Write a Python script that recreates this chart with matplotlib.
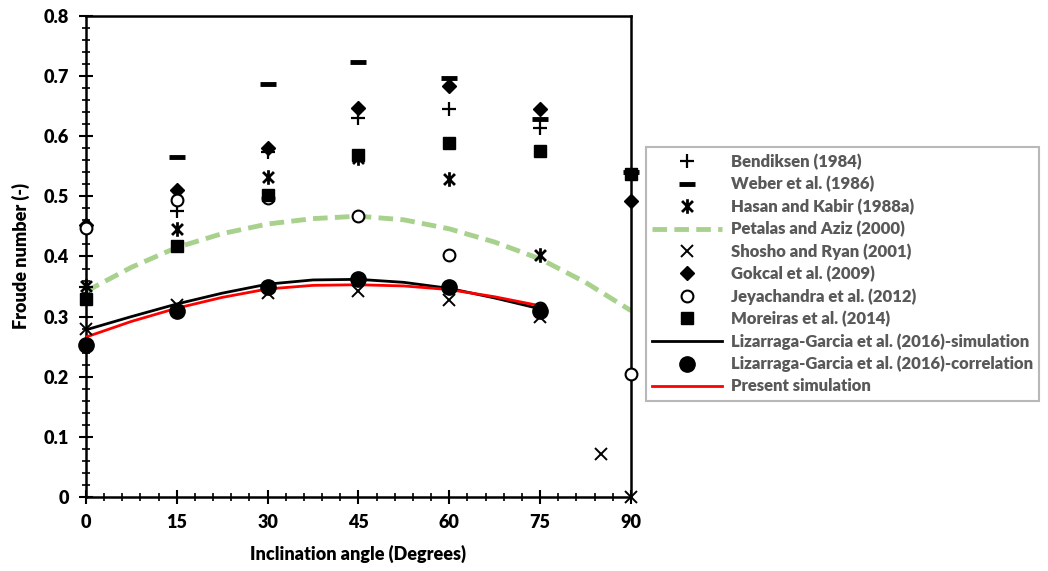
import numpy as np
import matplotlib
matplotlib.use("Agg")
import matplotlib.pyplot as plt
from matplotlib.path import Path
from matplotlib.ticker import MultipleLocator, FuncFormatter

plt.rcParams['font.family'] = ['Lato', 'DejaVu Sans']
plt.rcParams['font.weight'] = 'heavy'

# data
ang = [0, 15, 30, 45, 60, 75, 90]
bendiksen = [0.350, 0.476, 0.573, 0.630, 0.645, 0.614, np.nan]
weber = [np.nan, 0.566, 0.687, 0.723, 0.697, 0.628, 0.540]
hasan = [0.351, 0.445, 0.533, 0.563, 0.529, 0.402, np.nan]
shosho_x = [0, 15, 30, 45, 60, 75, 85, 90]
shosho = [0.279, 0.319, 0.340, 0.343, 0.328, 0.300, 0.072, 0.0]
gokcal = [0.453, 0.511, 0.580, 0.647, 0.683, 0.645, 0.493]
jeya = [0.448, 0.494, 0.497, 0.468, 0.402, 0.315, 0.204]
moreiras = [0.329, 0.417, 0.502, 0.568, 0.588, 0.575, 0.537]
liz_corr_x = [0, 15, 30, 45, 60, 75]
liz_corr = [0.252, 0.309, 0.349, 0.363, 0.349, 0.310]

petalas_x = [0, 7.5, 15, 22.5, 30, 37.5, 45, 52.5, 60, 67.5, 75, 82.5, 90]
petalas = [0.342, 0.382, 0.415, 0.438, 0.454, 0.463, 0.467, 0.461, 0.446, 0.424, 0.396, 0.357, 0.310]
sim_x = [0, 7.5, 15, 22.5, 30, 37.5, 45, 52.5, 60, 67.5, 75]
liz_sim = [0.278, 0.300, 0.321, 0.339, 0.354, 0.361, 0.362, 0.357, 0.347, 0.331, 0.313]
present = [0.266, 0.292, 0.314, 0.332, 0.346, 0.352, 0.353, 0.351, 0.345, 0.333, 0.318]

# excel style star: x plus vertical bar
star = Path([(0, -1), (0, 1), (-0.75, -0.75), (0.75, 0.75), (-0.75, 0.75), (0.75, -0.75)],
            [Path.MOVETO, Path.LINETO, Path.MOVETO, Path.LINETO, Path.MOVETO, Path.LINETO])

fig = plt.figure(figsize=(10.48, 5.71), dpi=100)
ax = fig.add_axes([0.082, 0.1296, 0.52, 0.8424])

kw = dict(linestyle='none', color='black', clip_on=False, zorder=5)
h1, = ax.plot(ang, bendiksen, marker='+', markersize=10, markeredgewidth=1.6, **kw)
h2, = ax.plot(ang, weber, marker='_', markersize=11, markeredgewidth=3.5, **kw)
h3, = ax.plot(ang, hasan, marker=star, markersize=10.5, markeredgewidth=2, **kw)
h4, = ax.plot(petalas_x, petalas, color='#a9d18e', linestyle=(0, (3, 1.5)), linewidth=3.5, zorder=2)
h5, = ax.plot(shosho_x, shosho, marker='x', markersize=8.5, markeredgewidth=1.4, **kw)
h6, = ax.plot(ang, gokcal, marker='D', markersize=7, **kw)
h7, = ax.plot(ang, jeya, marker='o', markersize=8.5, markerfacecolor='white', markeredgewidth=1.5, **kw)
h8, = ax.plot(ang, moreiras, marker='s', markersize=8.5, **kw)
h9, = ax.plot(sim_x, liz_sim, color='black', linewidth=2, zorder=3)
h10, = ax.plot(liz_corr_x, liz_corr, marker='o', markersize=11, **kw)
h11, = ax.plot(sim_x, present, color='red', linewidth=2, zorder=4)

ax.set_xlim(0, 90)
ax.set_ylim(0, 0.8)
ax.xaxis.set_major_locator(MultipleLocator(15))
ax.xaxis.set_minor_locator(MultipleLocator(3))
ax.yaxis.set_major_locator(MultipleLocator(0.1))
ax.yaxis.set_minor_locator(MultipleLocator(0.02))
ax.yaxis.set_major_formatter(FuncFormatter(lambda v, p: '0' if abs(v) < 1e-9 else '%.1f' % v))
for s in ax.spines.values():
    s.set_linewidth(1.8)
ax.tick_params(which='major', direction='inout', length=10, width=1.5, labelsize=13, pad=7)
ax.tick_params(which='minor', direction='inout', length=6, width=1.2)
ax.tick_params(axis='x', which='both', top=False)
ax.tick_params(axis='y', which='both', right=False)

ax.set_xlabel('Inclination angle (Degrees)', fontsize=13, fontweight='heavy', labelpad=10)
ax.set_ylabel('Froude number (-)', fontsize=13, fontweight='heavy', labelpad=10)

labels = ['Bendiksen (1984)', 'Weber et al. (1986)', 'Hasan and Kabir (1988a)',
          'Petalas and Aziz (2000)', 'Shosho and Ryan (2001)', 'Gokcal et al. (2009)',
          'Jeyachandra et al. (2012)', 'Moreiras et al. (2014)',
          'Lizarraga-Garcia et al. (2016)-simulation',
          'Lizarraga-Garcia et al. (2016)-correlation', 'Present simulation']
leg = fig.legend([h1, h2, h3, h4, h5, h6, h7, h8, h9, h10, h11], labels,
                 loc='center left', bbox_to_anchor=(0.616, 0.52), fontsize=12,
                 handlelength=4.2, handletextpad=0.5, labelspacing=0.36,
                 frameon=True, fancybox=False, borderpad=0.4, borderaxespad=0)
leg.get_frame().set_edgecolor('#a6a6a6')
leg.get_frame().set_linewidth(1.5)
for t in leg.get_texts():
    t.set_color('#595959')

fig.savefig('out.png', dpi=100)
